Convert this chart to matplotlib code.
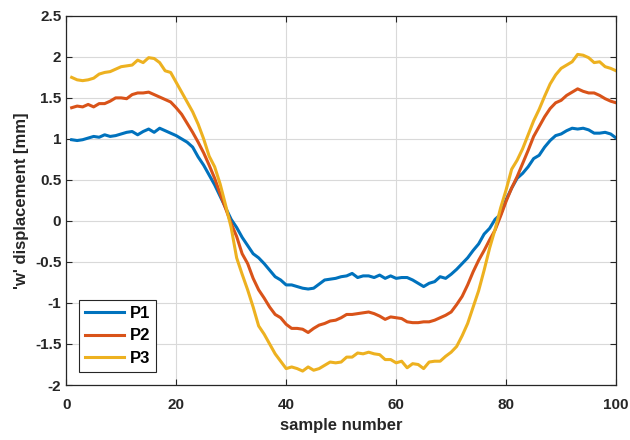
import numpy as np
import matplotlib.pyplot as plt
from matplotlib.ticker import FuncFormatter

plt.rcParams['font.family'] = ['Liberation Sans', 'DejaVu Sans']
plt.rcParams['font.weight'] = 'bold'

samples = np.arange(1, 101)

p1 = [0.99, 0.98, 0.99, 1.01, 1.03, 1.02, 1.05, 1.03, 1.04, 1.06,
      1.08, 1.09, 1.05, 1.09, 1.12, 1.08, 1.13, 1.10, 1.07, 1.04,
      1.00, 0.96, 0.90, 0.78, 0.68, 0.56, 0.44, 0.30, 0.16, 0.02,
      -0.08, -0.20, -0.30, -0.40, -0.45, -0.52, -0.60, -0.68, -0.72, -0.78,
      -0.78, -0.80, -0.82, -0.83, -0.82, -0.77, -0.72, -0.71, -0.70, -0.68,
      -0.67, -0.64, -0.69, -0.67, -0.67, -0.69, -0.66, -0.70, -0.67, -0.70,
      -0.69, -0.69, -0.72, -0.76, -0.80, -0.76, -0.74, -0.68, -0.70, -0.65,
      -0.59, -0.52, -0.45, -0.36, -0.28, -0.16, -0.09, 0.02, 0.08, 0.26,
      0.40, 0.52, 0.58, 0.66, 0.76, 0.80, 0.90, 0.98, 1.04, 1.06,
      1.10, 1.13, 1.12, 1.13, 1.11, 1.07, 1.07, 1.08, 1.06, 1.01]

p2 = [1.38, 1.40, 1.39, 1.42, 1.39, 1.43, 1.43, 1.46, 1.50, 1.50,
      1.49, 1.54, 1.56, 1.56, 1.57, 1.54, 1.51, 1.48, 1.45, 1.38,
      1.30, 1.19, 1.08, 0.96, 0.83, 0.68, 0.52, 0.33, 0.15, -0.03,
      -0.19, -0.40, -0.52, -0.70, -0.84, -0.94, -1.05, -1.14, -1.18, -1.26,
      -1.31, -1.31, -1.32, -1.36, -1.31, -1.27, -1.25, -1.22, -1.21, -1.18,
      -1.14, -1.14, -1.13, -1.12, -1.11, -1.13, -1.16, -1.20, -1.17, -1.18,
      -1.19, -1.23, -1.24, -1.24, -1.23, -1.23, -1.21, -1.18, -1.15, -1.11,
      -1.02, -0.92, -0.78, -0.62, -0.48, -0.36, -0.23, -0.11, 0.06, 0.24,
      0.40, 0.54, 0.70, 0.86, 1.03, 1.15, 1.27, 1.37, 1.44, 1.47,
      1.53, 1.57, 1.61, 1.58, 1.56, 1.56, 1.53, 1.49, 1.46, 1.44]

p3 = [1.75, 1.72, 1.71, 1.72, 1.74, 1.79, 1.81, 1.82, 1.85, 1.88,
      1.89, 1.90, 1.96, 1.93, 1.99, 1.98, 1.93, 1.83, 1.81, 1.69,
      1.57, 1.45, 1.33, 1.18, 1.00, 0.79, 0.66, 0.45, 0.19, -0.08,
      -0.45, -0.65, -0.84, -1.05, -1.28, -1.38, -1.50, -1.62, -1.71, -1.80,
      -1.78, -1.80, -1.83, -1.78, -1.82, -1.80, -1.76, -1.72, -1.73, -1.72,
      -1.66, -1.66, -1.61, -1.62, -1.60, -1.62, -1.63, -1.69, -1.69, -1.73,
      -1.71, -1.79, -1.74, -1.75, -1.80, -1.72, -1.71, -1.71, -1.65, -1.60,
      -1.53, -1.40, -1.25, -1.05, -0.85, -0.60, -0.33, -0.10, 0.16, 0.38,
      0.63, 0.74, 0.88, 1.05, 1.22, 1.36, 1.52, 1.67, 1.78, 1.86,
      1.90, 1.94, 2.03, 2.02, 1.99, 1.93, 1.94, 1.88, 1.86, 1.83]

labels = ['P1', 'P2', 'P3']
colors = ['#0072BD', '#D95319', '#EDB120']

fig = plt.figure(figsize=(6.3, 4.4), dpi=100)
ax = fig.add_axes([0.105, 0.125, 0.873, 0.839])

for y, lab, c in zip([p1, p2, p3], labels, colors):
    ax.plot(samples, y, color=c, lw=2.2, label=lab)

ax.set_xlim(0, 100)
ax.set_ylim(-2, 2.5)
ax.set_xticks(np.arange(0, 101, 20))
ax.set_yticks(np.arange(-2, 2.51, 0.5))
ax.yaxis.set_major_formatter(FuncFormatter(lambda v, p: '%g' % v))
ax.grid(True, color='#d9d9d9', lw=0.8)
ax.tick_params(direction='in', top=True, right=True, labelsize=11,
               colors='#262626', length=4)
ax.tick_params(axis='x', pad=9)
for s in ax.spines.values():
    s.set_color('#262626')
    s.set_linewidth(0.9)

ax.set_xlabel('sample number', fontsize=12, fontweight='bold', color='#262626', labelpad=5)
ax.set_ylabel("'w' displacement [mm]", fontsize=12, fontweight='bold', color='#262626')

leg = ax.legend(loc='lower left', fontsize=12, handlelength=2.3, fancybox=False,
                edgecolor='#262626', framealpha=1, borderaxespad=0.8,
                labelspacing=0.45, handletextpad=0.35, borderpad=0.35)
leg.get_frame().set_linewidth(0.8)

fig.savefig('out.png', dpi=100)
